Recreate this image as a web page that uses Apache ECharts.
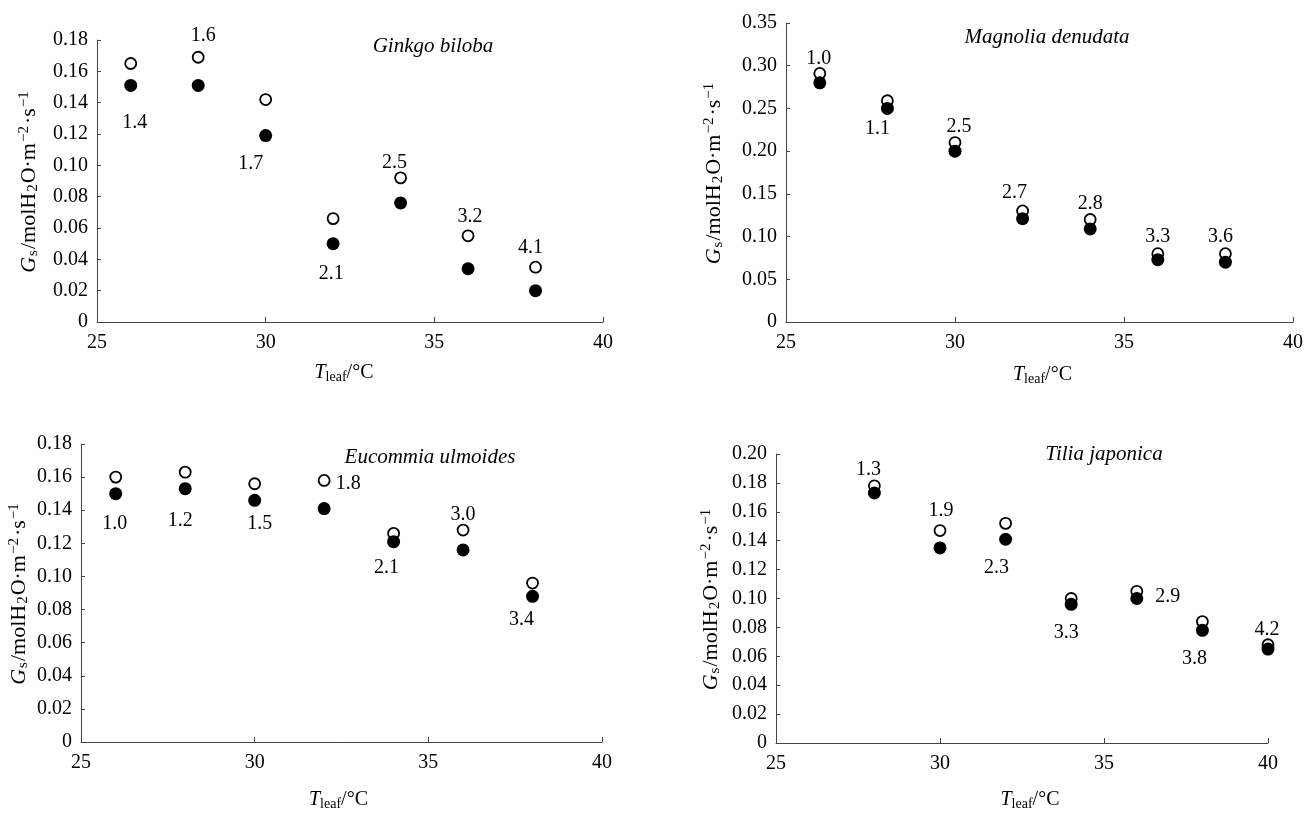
<!DOCTYPE html>
<html>
<head>
<meta charset="utf-8">
<script src="https://cdn.jsdelivr.net/npm/echarts@6/dist/echarts.min.js"></script>
<style>
html,body{margin:0;padding:0;background:#fff;}
#c{width:1316px;height:813px;}
</style>
</head>
<body>
<div id="c"></div>
<script>
// ---------- data ----------
const xTicks = [25, 30, 35, 40];

const ginkgoT = [26, 28, 30, 32, 34, 36, 38];
const ginkgoOpen = [0.165, 0.169, 0.142, 0.066, 0.092, 0.055, 0.035];
const ginkgoFilled = [0.151, 0.151, 0.119, 0.050, 0.076, 0.034, 0.020];
const ginkgoLabels = [1.4, 1.6, 1.7, 2.1, 2.5, 3.2, 4.1];

const magnoliaT = [26, 28, 30, 32, 34, 36, 38];
const magnoliaOpen = [0.291, 0.259, 0.210, 0.130, 0.120, 0.080, 0.080];
const magnoliaFilled = [0.280, 0.250, 0.200, 0.121, 0.109, 0.073, 0.070];
const magnoliaLabels = [1.0, 1.1, 2.5, 2.7, 2.8, 3.3, 3.6];

const eucommiaT = [26, 28, 30, 32, 34, 36, 38];
const eucommiaOpen = [0.160, 0.163, 0.156, 0.158, 0.126, 0.128, 0.096];
const eucommiaFilled = [0.150, 0.153, 0.146, 0.141, 0.121, 0.116, 0.088];
const eucommiaLabels = [1.0, 1.2, 1.5, 1.8, 2.1, 3.0, 3.4];

const tiliaT = [28, 30, 32, 34, 36, 38, 40];
const tiliaOpen = [0.178, 0.147, 0.152, 0.100, 0.105, 0.084, 0.068];
const tiliaFilled = [0.173, 0.135, 0.141, 0.096, 0.100, 0.078, 0.065];
const tiliaLabels = [1.3, 1.9, 2.3, 3.3, 2.9, 3.8, 4.2];

const yMax = [0.18, 0.35, 0.18, 0.20];
const yStep = [0.02, 0.05, 0.02, 0.02];
const titles = ['Ginkgo biloba', 'Magnolia denudata', 'Eucommia ulmoides', 'Tilia japonica'];

// ---------- layout / style (not data) ----------
const FONT = '"Liberation Serif", "Times New Roman", serif';
const TXT = '#000';
const AX = '#444';
const grids = [
  {left: 97, top: 40, width: 506, height: 282},
  {left: 786, top: 23, width: 507, height: 299},
  {left: 81, top: 444, width: 521, height: 298},
  {left: 776, top: 454, width: 492, height: 289}
];
const xNameGap = [40, 42, 47, 46];
const xNameShift = [-6, 3, -3, 8];
const yNameGap = [56, 60, 50, 53];
const titlePos = [[433, 46], [1047, 37], [430, 457], [1104, 454]];
// which marker a label is attached to ('o' open / 'f' filled) and pixel offset from it
const labelPlace = [
  [['f', 4, 37], ['o', 5, -21], ['f', -15, 28], ['f', -2, 30], ['o', -6, -15], ['o', 2, -19], ['o', -5, -19]],
  [['o', -1, -15], ['f', -10, 20], ['o', 4, -16], ['o', -8, -18], ['o', 0, -16], ['o', 0, -17], ['o', -5, -17]],
  [['f', -1, 30], ['f', -5, 32], ['f', 5, 23], ['o', 24, 3], ['f', -7, 26], ['o', 0, -15], ['f', -11, 23]],
  [['o', -6, -16], ['o', 1, -20], ['f', -9, 28], ['f', -5, 28], ['f', 31, -2], ['f', -8, 28], ['o', -1, -15]]
];

const panels = [
  [ginkgoT, ginkgoOpen, ginkgoFilled, ginkgoLabels],
  [magnoliaT, magnoliaOpen, magnoliaFilled, magnoliaLabels],
  [eucommiaT, eucommiaOpen, eucommiaFilled, eucommiaLabels],
  [tiliaT, tiliaOpen, tiliaFilled, tiliaLabels]
];

const richX = {
  n: {fontFamily: FONT, fontSize: 20, color: TXT, lineHeight: 22},
  i: {fontFamily: FONT, fontSize: 20, fontStyle: 'italic', color: TXT, lineHeight: 22},
  sub: {fontFamily: FONT, fontSize: 14, color: TXT, lineHeight: 22, verticalAlign: 'bottom'}
};
const richY = {
  n: {fontFamily: FONT, fontSize: 22, color: TXT, lineHeight: 24},
  i: {fontFamily: FONT, fontSize: 22, fontStyle: 'italic', color: TXT, lineHeight: 24},
  sub: {fontFamily: FONT, fontSize: 15, color: TXT, lineHeight: 24, verticalAlign: 'bottom', padding: [0, 1, 0, 1]},
  sup: {fontFamily: FONT, fontSize: 15, color: TXT, lineHeight: 24, verticalAlign: 'top', padding: [0, 2, 0, 1]}
};

const xAxes = [], yAxes = [], series = [], graphics = [];
panels.forEach((p, k) => {
  const s = xNameShift[k];
  xAxes.push({
    type: 'value', gridIndex: k, min: 25, max: 40, interval: 5,
    splitLine: {show: false},
    axisLine: {lineStyle: {color: AX, width: 1}},
    axisTick: {inside: true, length: 5, lineStyle: {color: AX}},
    axisLabel: {fontFamily: FONT, fontSize: 20, color: TXT, margin: 11,
      formatter: v => xTicks.indexOf(v) >= 0 ? String(v) : ''},
    name: '{i|T}{sub|leaf}{n|/°C}',
    nameLocation: 'middle', nameGap: xNameGap[k], nameMoveOverlap: false,
    nameTextStyle: {rich: richX, padding: [0, Math.max(0, -2 * s), 0, Math.max(0, 2 * s)]}
  });
  yAxes.push({
    type: 'value', gridIndex: k, min: 0, max: yMax[k], interval: yStep[k],
    splitLine: {show: false},
    axisLine: {show: true, lineStyle: {color: AX, width: 1}},
    axisTick: {show: true, inside: true, length: 4, lineStyle: {color: AX}},
    axisLabel: {fontFamily: FONT, fontSize: 20, color: TXT, margin: 9,
      formatter: v => Math.abs(v) < 1e-9 ? '0' : v.toFixed(2)},
    name: '{i|G}{sub|s}{n|/molH}{sub|2}{n|O·m}{sup|−2}{n|·s}{sup|−1}',
    nameLocation: 'middle', nameGap: yNameGap[k], nameRotate: 90, nameMoveOverlap: false,
    nameTextStyle: {rich: richY}
  });
  const [T, open, filled, labs] = p;
  const mk = (vals, kind) => vals.map((v, j) => {
    const pl = labelPlace[k][j];
    const item = {value: [T[j], v]};
    if (pl[0] === kind) {
      item.label = {show: true, position: 'inside', offset: [pl[1], pl[2]],
        formatter: labs[j].toFixed(1), fontFamily: FONT, fontSize: 20, color: TXT, opacity: 1};
    }
    return item;
  });
  series.push({
    type: 'scatter', xAxisIndex: k, yAxisIndex: k, symbol: 'circle', symbolSize: 11,
    itemStyle: {color: '#fff', borderColor: '#000', borderWidth: 1.8, opacity: 1},
    data: mk(open, 'o'), silent: true, z: 2
  });
  series.push({
    type: 'scatter', xAxisIndex: k, yAxisIndex: k, symbol: 'circle', symbolSize: 13,
    itemStyle: {color: '#000', opacity: 1},
    data: mk(filled, 'f'), silent: true, z: 3
  });
  graphics.push({
    type: 'text', x: titlePos[k][0], y: titlePos[k][1],
    style: {text: titles[k], fontFamily: FONT, fontSize: 21, fontStyle: 'italic',
      fill: TXT, align: 'center', verticalAlign: 'middle'}
  });
});

const chart = echarts.init(document.getElementById('c'), null, {renderer: 'canvas'});
chart.setOption({
  animation: false,
  backgroundColor: '#fff',
  grid: grids,
  xAxis: xAxes,
  yAxis: yAxes,
  series: series,
  graphic: graphics
});
</script>
</body>
</html>
